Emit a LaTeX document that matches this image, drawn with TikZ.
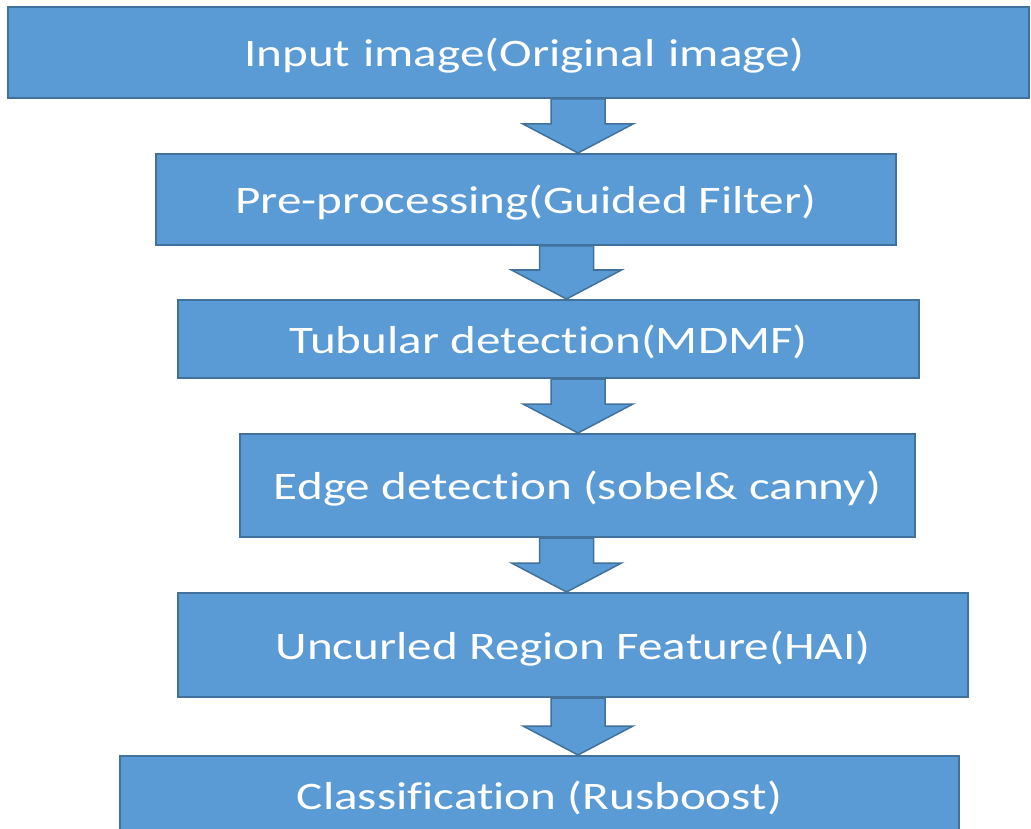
\documentclass[tikz,border=0pt]{standalone}
\usepackage{fontspec}
\setmainfont{Carlito}[FakeStretch=1.26, Ligatures=NoCommon]
\usetikzlibrary{calc}
\definecolor{boxfill}{HTML}{5B9BD5}
\definecolor{boxline}{HTML}{41719C}
\tikzset{
  stagebox/.style={draw=boxline, fill=boxfill, line width=2pt, inner sep=0pt,
    text=white, font=\fontsize{39}{47}\selectfont, text height=28pt, text depth=0pt},
  blockarr/.style={draw=boxline, fill=boxfill, line width=1.5pt, line join=miter},
}
\newcommand\flowarrow[3]{%
  \draw[blockarr] ($(#1,0 |- #2.south)+(-27,0)$) -- ($(#1,0 |- #2.south)+(27,0)$)
    -- ($(#1,0 |- #3.north)+(27,-29)$) -- ($(#1,0 |- #3.north)+(55,-29)$)
    -- (#1,0 |- #3.north) -- ($(#1,0 |- #3.north)+(-55,-29)$)
    -- ($(#1,0 |- #3.north)+(-27,-29)$) -- cycle;}
\begin{document}
\begin{tikzpicture}[x=1pt,y=-1pt]
\useasboundingbox (0,0) rectangle (1031,829);
\clip (0,0) rectangle (1031,829);
\node[stagebox, minimum width=1021pt, minimum height=91pt, text width=1021pt, align=center] (n1) at (518.5,52.5) {\hspace*{12pt}Input image(Original image)};
\node[stagebox, minimum width=740pt, minimum height=91pt] (n2) at (526,199.5) {Pre-processing(Guided Filter)};
\node[stagebox, minimum width=741pt, minimum height=78pt] (n3) at (548.5,339) {Tubular detection(MDMF)};
\node[stagebox, minimum width=675pt, minimum height=103pt] (n4) at (577.5,485.5) {Edge detection (sobel\& canny)};
\node[stagebox, minimum width=790pt, minimum height=104pt] (n5) at (573,645) {Uncurled Region Feature(HAI)};
\node[stagebox, minimum width=839pt, minimum height=78pt] (n6) at (539.5,795) {Classification (Rusboost)};
\flowarrow{578}{n1}{n2}
\flowarrow{566.5}{n2}{n3}
\flowarrow{578}{n3}{n4}
\flowarrow{566.5}{n4}{n5}
\flowarrow{578}{n5}{n6}
\end{tikzpicture}
\end{document}
